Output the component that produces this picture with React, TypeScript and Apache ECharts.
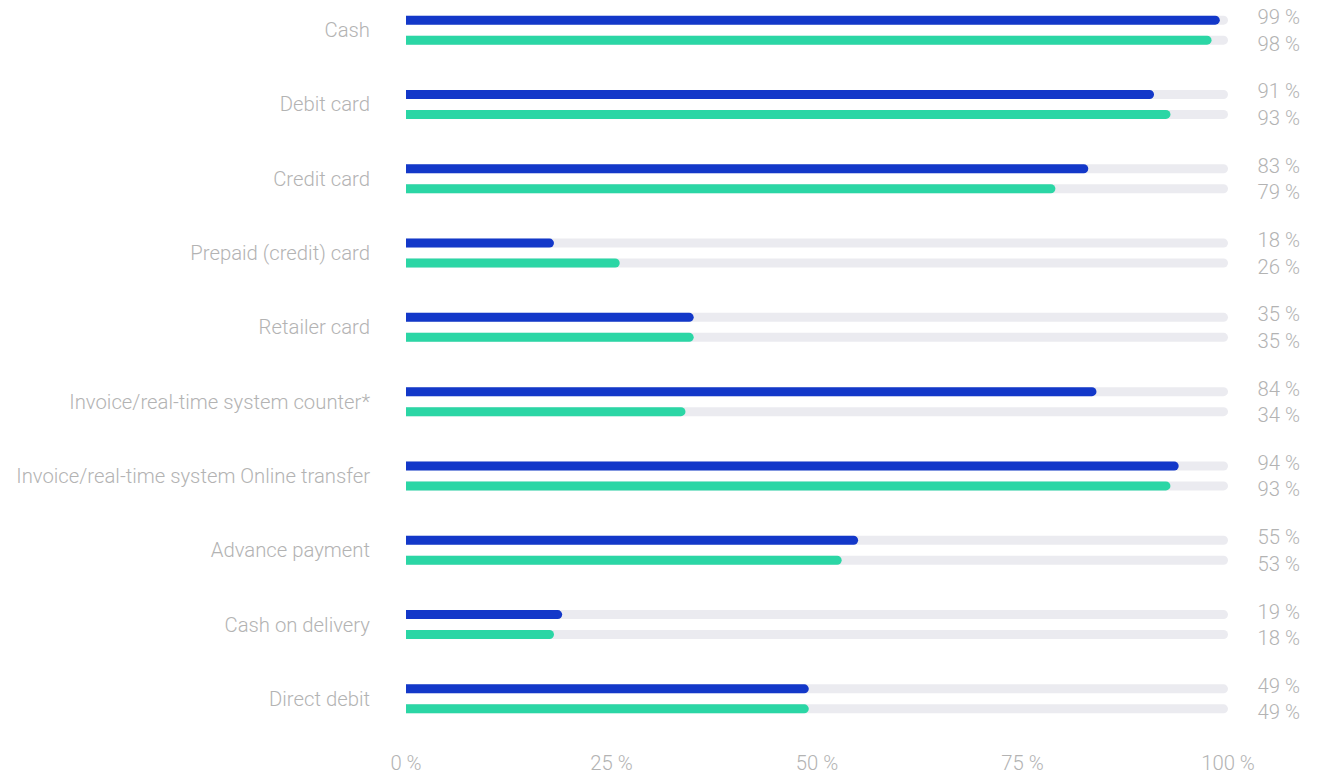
import React, { useEffect, useRef } from "react";
import * as echarts from "echarts";

const categories = [
  "Cash",
  "Debit card",
  "Credit card",
  "Prepaid (credit) card",
  "Retailer card",
  "Invoice/real-time system counter*",
  "Invoice/real-time system Online transfer",
  "Advance payment",
  "Cash on delivery",
  "Direct debit",
];
const blueValues = [99, 91, 83, 18, 35, 84, 94, 55, 19, 49];
const greenValues = [98, 93, 79, 26, 35, 34, 93, 53, 18, 49];
const xTicks = [0, 25, 50, 75, 100];

const BLUE = "#1338c9";
const GREEN = "#2bd6a5";
const TRACK = "#ebebf0";
const TEXT = "#b3b3b3";
const FONT = "Roboto";
const FS = 20.3;

export default function App() {
  const ref = useRef<HTMLDivElement>(null);
  useEffect(() => {
    if (!ref.current) return;
    const chart = echarts.init(ref.current, null, { renderer: "svg" });
    const labelBase = {
      show: true,
      position: "right" as const,
      distance: 72,
      align: "right" as const,
      color: TEXT,
      fontSize: FS,
      fontFamily: FONT,
      fontWeight: 300 as any,
    };
    chart.setOption({
      animation: false,
      grid: { left: 406, right: 95, top: 13, bottom: 38 },
      xAxis: {
        type: "value",
        min: xTicks[0],
        max: xTicks[xTicks.length - 1],
        interval: 25,
        axisLine: { show: false },
        axisTick: { show: false },
        splitLine: { show: false },
        axisLabel: {
          formatter: "{value} %",
          color: TEXT,
          fontSize: FS,
          fontFamily: FONT,
          fontWeight: 300,
          margin: 17,
        },
      },
      yAxis: {
        type: "category",
        data: categories,
        inverse: true,
        axisLine: { show: false },
        axisTick: { show: false },
        axisLabel: {
          color: TEXT,
          fontSize: FS,
          fontFamily: FONT,
          fontWeight: 300,
          margin: 36,
        },
      },
      series: [
        {
          type: "bar",
          stack: "b",
          data: blueValues,
          barWidth: 9,
          barGap: "122%",
          itemStyle: { color: BLUE, borderRadius: [0, 5, 5, 0] },
          showBackground: true,
          backgroundStyle: { color: TRACK, borderRadius: [0, 5, 5, 0] },
        },
        {
          type: "bar",
          stack: "b",
          data: blueValues.map((v) => 100 - v),
          barWidth: 9,
          itemStyle: { color: "rgba(0,0,0,0)" },
          label: {
            ...labelBase,
            offset: [0, -3],
            formatter: (p: any) => blueValues[p.dataIndex] + " %",
          },
          silent: true,
        },
        {
          type: "bar",
          stack: "g",
          data: greenValues,
          barWidth: 9,
          itemStyle: { color: GREEN, borderRadius: [0, 5, 5, 0] },
          showBackground: true,
          backgroundStyle: { color: TRACK, borderRadius: [0, 5, 5, 0] },
        },
        {
          type: "bar",
          stack: "g",
          data: greenValues.map((v) => 100 - v),
          barWidth: 9,
          itemStyle: { color: "rgba(0,0,0,0)" },
          label: {
            ...labelBase,
            offset: [0, 3.5],
            formatter: (p: any) => greenValues[p.dataIndex] + " %",
          },
          silent: true,
        },
      ],
    });
    return () => chart.dispose();
  }, []);
  return (
    <div
      ref={ref}
      style={{ position: "absolute", left: 0, top: -20, width: 1323, height: 794 }}
    />
  );
}
